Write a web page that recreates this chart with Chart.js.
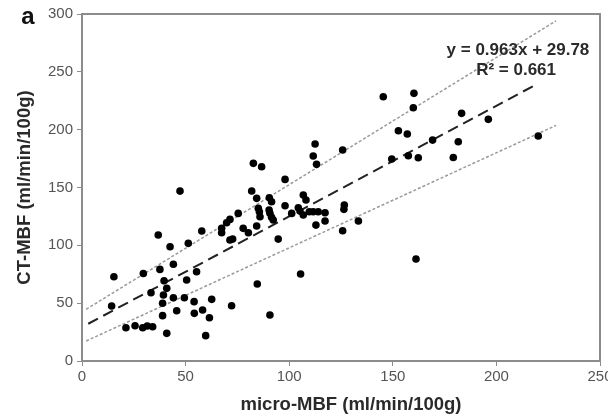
<!DOCTYPE html>
<html>
<head>
<meta charset="utf-8">
<script src="https://cdn.jsdelivr.net/npm/chart.js@4"></script>
<style>
  html, body { margin: 0; padding: 0; background: #fff; }
  #wrap { width: 608px; height: 416px; }
</style>
</head>
<body>
<div id="wrap"><canvas id="mbf"></canvas></div>
<script>
// micro-MBF (x) vs CT-MBF (y)
var microMBF = [
  14.3, 15.4, 21.2, 25.6, 29.3, 31.5, 34.1, 29.6, 33.3, 36.8, 37.6, 39.6, 40.9, 39.3, 38.9, 38.9, 40.9,
  42.5, 44.1, 44.1, 45.7, 47.3, 50.5, 51.3, 49.4, 54.1, 54.2, 55.3, 57.8, 58.2, 59.7, 61.5, 62.6,
  67.4, 67.4, 69.8, 71.4, 71.4, 72.7, 75.4, 77.8, 80.3, 81.9, 82.7, 84.3, 85.1, 85.6, 85.9, 84.3,
  86.7, 90.3, 90.7, 91.5, 90.4, 91.5, 92.3, 94.7, 98.0, 98.0, 101.2, 104.4, 105.2, 106.8, 108.1,
  106.8, 109.7, 111.6, 114.0, 117.3, 112.9, 117.3, 112.5, 111.6, 113.2, 125.8, 126.6, 126.4, 125.8,
  133.4, 105.5, 84.6, 72.2, 90.7,
  145.4, 160.2, 159.9, 183.2, 196.1, 152.7, 157.0, 169.2, 181.6, 220.2, 149.5, 157.5, 162.3, 179.2, 161.2
];
var ctMBF = [
  47.5, 72.9, 28.8, 30.5, 28.8, 30.2, 29.6, 75.7, 59.0, 108.9, 79.2, 69.4, 62.8, 57.0, 49.9, 39.2, 23.9,
  98.8, 83.6, 54.7, 43.5, 146.9, 70.0, 101.7, 54.7, 51.3, 41.2, 77.2, 112.4, 44.1, 21.9, 37.4, 53.3,
  114.7, 110.9, 119.5, 122.4, 104.6, 105.4, 127.6, 114.7, 110.9, 147.0, 170.9, 140.6, 132.0, 129.0, 124.7, 116.7,
  168.0, 130.5, 127.7, 124.2, 141.2, 137.7, 121.9, 105.4, 157.0, 134.2, 127.6, 132.5, 129.6, 143.5, 139.2,
  126.2, 129.0, 129.0, 129.0, 128.2, 117.5, 121.0, 187.6, 177.2, 170.0, 182.4, 134.8, 131.1, 112.6,
  121.0, 75.2, 66.6, 47.8, 39.8,
  228.4, 231.4, 218.9, 214.1, 208.9, 199.0, 196.2, 191.0, 189.5, 194.5, 174.6, 177.4, 175.7, 176.0, 88.2
];

// regression line and the two outer dotted lines (end points)
var fitX = [3, 217.8];
var fitY = [32.2, 237.7];
var upperX = [2, 228.8];
var upperY = [44.7, 294.1];
var lowerX = [2, 228.8];
var lowerY = [17.3, 203.7];

var xTicks = [0, 50, 100, 150, 200, 250];
var yTicks = [0, 50, 100, 150, 200, 250, 300];

var xTitle = "micro-MBF (ml/min/100g)";
var yTitle = "CT-MBF (ml/min/100g)";
var equationText = ["y = 0.963x + 29.78", "R\u00b2 = 0.661"];
var panelLabel = "a";

function toPoints(xs, ys) {
  return xs.map(function (x, i) { return { x: x, y: ys[i] }; });
}

var FONT = "'Liberation Sans', Arial, sans-serif";
var AXIS_GREY = "#8c8c8c";

const frameAndText = {
  id: "frameAndText",
  afterDraw(chart) {
    const ctx = chart.ctx;
    const a = chart.chartArea;
    ctx.save();
    // top and right frame
    ctx.strokeStyle = AXIS_GREY;
    ctx.lineWidth = 2;
    ctx.beginPath();
    ctx.moveTo(a.left, a.top);
    ctx.lineTo(a.right, a.top);
    ctx.lineTo(a.right, a.bottom);
    ctx.stroke();

    // equation
    const xs = chart.scales.x, ys = chart.scales.y;
    ctx.fillStyle = "#2a2a2a";
    ctx.font = "bold 17px " + FONT;
    ctx.textAlign = "center";
    ctx.textBaseline = "middle";
    ctx.fillText(equationText[0], xs.getPixelForValue(210.4), ys.getPixelForValue(268.8));
    ctx.fillText(equationText[1], xs.getPixelForValue(209.5), ys.getPixelForValue(251.5));

    // x axis title (sits a little right of centre in the original)
    ctx.font = "bold 18.5px " + FONT;
    ctx.fillText(xTitle, 351, 405);

    // panel letter
    ctx.fillStyle = "#111";
    ctx.font = "bold 24px " + FONT;
    ctx.fillText(panelLabel, 28, 17);
    ctx.restore();
  }
};

const config_mbf = {
  type: "scatter",
  data: {
    datasets: [
      {
        label: "upper",
        data: toPoints(upperX, upperY),
        showLine: true,
        borderColor: "#9a9a9a",
        borderWidth: 1.5,
        borderDash: [3, 2],
        pointRadius: 0,
        order: 3,
      },
      {
        label: "lower",
        data: toPoints(lowerX, lowerY),
        showLine: true,
        borderColor: "#9a9a9a",
        borderWidth: 1.5,
        borderDash: [3, 2],
        pointRadius: 0,
        order: 3,
      },
      {
        label: "fit",
        data: toPoints(fitX, fitY),
        showLine: true,
        borderColor: "#222",
        borderWidth: 2,
        borderDash: [11, 6],
        pointRadius: 0,
        order: 2,
      },
      {
        label: "MBF",
        data: toPoints(microMBF, ctMBF),
        backgroundColor: "#000",
        borderColor: "#000",
        pointRadius: 3.8,
        pointBorderWidth: 0,
        order: 1,
      },
    ],
  },
  options: {
    responsive: true,
    maintainAspectRatio: false,
    animation: false,
    layout: { padding: { left: 0, right: 8, top: 14, bottom: 0 } },
    plugins: {
      legend: { display: false },
      tooltip: { enabled: false },
    },
    scales: {
      x: {
        type: "linear",
        min: 0,
        max: 250,
        afterBuildTicks: (s) => { s.ticks = xTicks.map((v) => ({ value: v })); },
        afterFit: (s) => { s.height = 55; s.paddingLeft = 0; s.paddingRight = 0; },
        grid: { display: true, drawOnChartArea: false, drawTicks: true, tickLength: 5, color: AXIS_GREY },
        border: { display: true, color: AXIS_GREY, width: 2 },
        ticks: { color: "#555", padding: 2, font: { family: FONT, size: 15 }, maxRotation: 0 },
        title: { display: false },
      },
      y: {
        type: "linear",
        min: 0,
        max: 300,
        afterBuildTicks: (s) => { s.ticks = yTicks.map((v) => ({ value: v })); },
        afterFit: (s) => { s.width = 82; s.paddingTop = 0; s.paddingBottom = 0; },
        grid: { display: true, drawOnChartArea: false, drawTicks: true, tickLength: 5, color: AXIS_GREY },
        border: { display: true, color: AXIS_GREY, width: 2 },
        ticks: { color: "#555", padding: 4, font: { family: FONT, size: 15 } },
        title: {
          display: true,
          text: yTitle,
          color: "#2a2a2a",
          font: { family: FONT, size: 18.5, weight: "bold" },
          padding: { top: 14, bottom: 0 },
        },
      },
    },
  },
  plugins: [frameAndText],
};

const MBF = new Chart(document.getElementById("mbf"), config_mbf);
</script>
</body>
</html>
